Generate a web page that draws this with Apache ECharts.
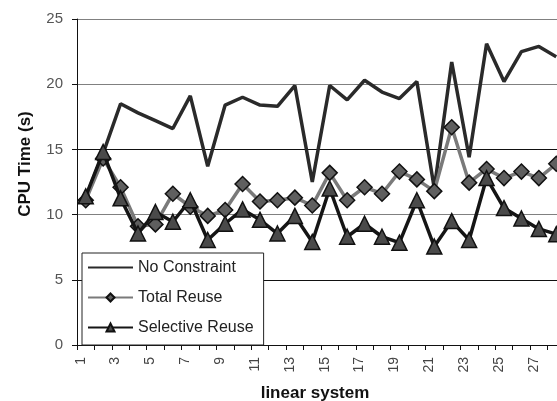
<!DOCTYPE html>
<html>
<head>
<meta charset="utf-8">
<script src="https://cdn.jsdelivr.net/npm/echarts@6/dist/echarts.min.js"></script>
<style>
html,body{margin:0;padding:0;background:#fff;}
#c{width:557px;height:401px;}
</style>
</head>
<body>
<div id="c"></div>
<script>
const categories = ['1','2','3','4','5','6','7','8','9','10','11','12','13','14','15','16','17','18','19','20','21','22','23','24','25','26','27','28'];
const noConstraint = [11.3,14.7,18.5,17.8,17.2,16.6,19.1,13.7,18.4,19.0,18.4,18.3,19.9,12.5,19.9,18.8,20.3,19.4,18.9,20.2,12.0,21.7,14.4,23.1,20.2,22.5,22.9,22.1];
const totalReuse = [11.1,14.3,12.1,9.1,9.25,11.6,10.6,9.9,10.35,12.35,11.0,11.1,11.3,10.7,13.2,11.1,12.1,11.6,13.3,12.7,11.8,16.7,12.45,13.5,12.8,13.3,12.8,13.9];
const selectiveReuse = [11.4,14.8,11.25,8.55,10.2,9.45,11.1,8.05,9.3,10.4,9.6,8.55,9.9,7.9,12.0,8.3,9.3,8.3,7.85,11.1,7.55,9.5,8.05,12.8,10.5,9.7,8.9,8.5];
const yTicks = [0,5,10,15,20,25];

const FONT = '"Liberation Sans", Arial, sans-serif';
const chart = echarts.init(document.getElementById('c'), null, {renderer:'canvas'});
chart.setOption({
  animation: false,
  backgroundColor: '#fff',
  grid: {left: 77, right: -8, top: 19, bottom: 56, containLabel: false, outerBoundsMode: 'none'},
  legend: {
    orient: 'vertical',
    left: 82, top: 253,
    backgroundColor: '#fff',
    borderColor: '#222',
    borderWidth: 1,
    padding: [6, 10, 9, 5],
    itemWidth: 45,
    itemHeight: 10,
    itemGap: 13,
    textStyle: {fontFamily: FONT, fontSize: 16, color: '#222', lineHeight: 17},
    data: [{name: 'No Constraint', itemStyle: {opacity: 0}}, 'Total Reuse', 'Selective Reuse']
  },
  xAxis: {
    type: 'category',
    data: categories,
    boundaryGap: true,
    axisLine: {lineStyle: {color: '#111', width: 1}},
    axisTick: {show: true, interval: 0, length: 5, lineStyle: {color: '#111'}},
    axisLabel: {interval: 1, rotate: 90, margin: 12, verticalAlign: 'bottom', lineHeight: 10, fontFamily: FONT, fontSize: 14, color: '#444'},
    splitLine: {show: false}
  },
  yAxis: {
    type: 'value',
    min: yTicks[0], max: yTicks[yTicks.length-1], interval: 5,
    axisLine: {show: true, lineStyle: {color: '#111', width: 1}},
    axisTick: {show: true, length: 5, lineStyle: {color: '#111'}},
    axisLabel: {margin: 14, fontFamily: FONT, fontSize: 15, color: '#555'},
    splitLine: {show: true, lineStyle: {color: ['#000','#111','#808080','#111','#808080','#808080'], width: 1}}
  },
  graphic: [
    {type: 'text', x: 25, y: 164, rotation: Math.PI/2,
     style: {text: 'CPU Time (s)', fontFamily: FONT, fontSize: 17, fontWeight: 'bold', fill: '#111', align: 'center', verticalAlign: 'middle'}},
    {type: 'text', x: 315, y: 393,
     style: {text: 'linear system', fontFamily: FONT, fontSize: 17, fontWeight: 'bold', fill: '#111', align: 'center', verticalAlign: 'middle'}}
  ],
  series: [
    {name: 'No Constraint', type: 'line', data: noConstraint, symbol: 'none',
     lineStyle: {color: '#2a2a2a', width: 3.5}, itemStyle: {color: '#2a2a2a'}, z: 2},
    {name: 'Total Reuse', type: 'line', data: totalReuse, symbol: 'diamond', symbolSize: 15, showAllSymbol: true,
     lineStyle: {color: '#7a7a7a', width: 3.5},
     itemStyle: {color: '#5f5f5f', borderColor: '#111', borderWidth: 1.5}, z: 3},
    {name: 'Selective Reuse', type: 'line', data: selectiveReuse, symbol: 'triangle', symbolSize: 15, showAllSymbol: true,
     lineStyle: {color: '#151515', width: 3.5},
     itemStyle: {color: '#4a4a4a', borderColor: '#111', borderWidth: 1.5}, z: 4}
  ]
});
</script>
</body>
</html>
